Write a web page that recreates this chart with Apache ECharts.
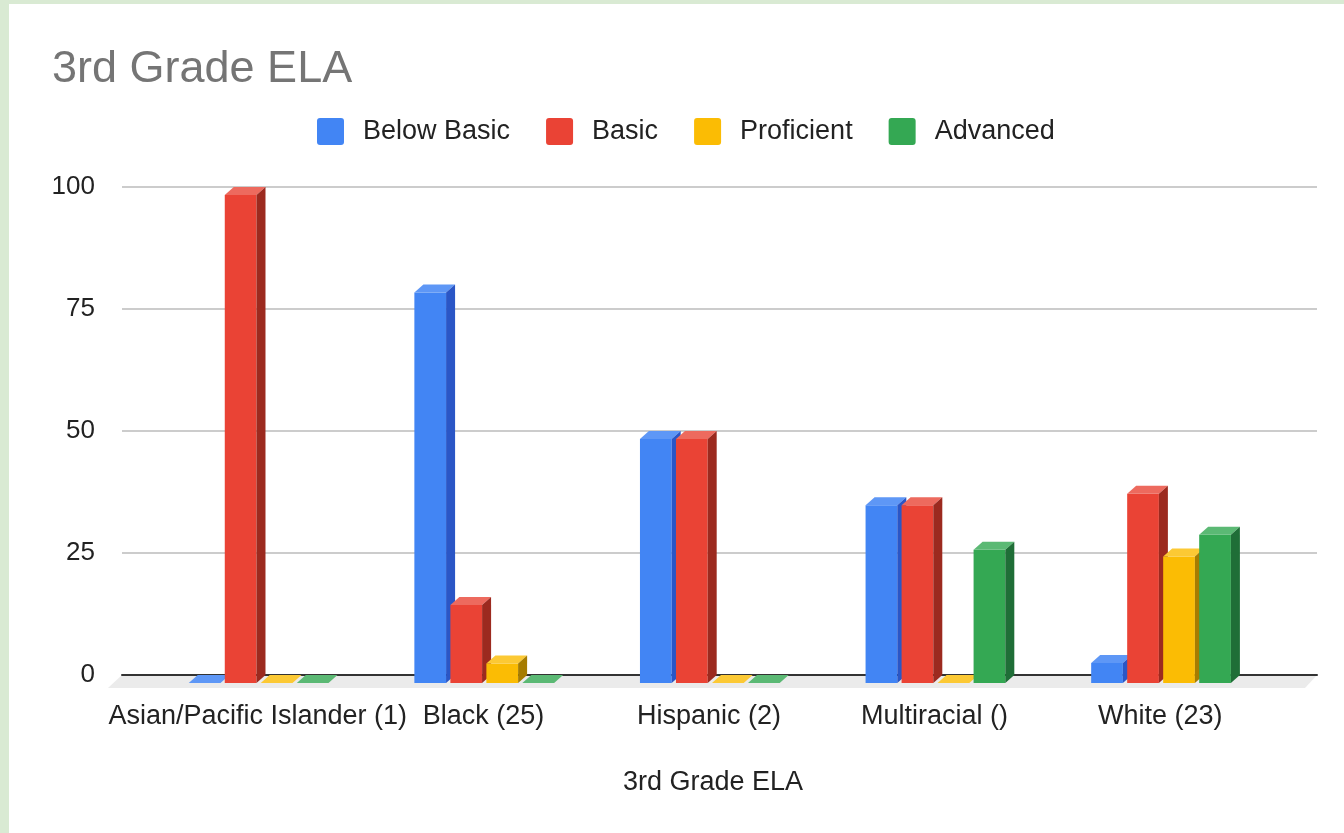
<!DOCTYPE html>
<html>
<head>
<meta charset="utf-8">
<script src="https://cdn.jsdelivr.net/npm/echarts@6/dist/echarts.min.js"></script>
<style>
html,body{margin:0;padding:0;background:#fff;}
#chart{width:1344px;height:833px;}
</style>
</head>
<body>
<div id="chart"></div>
<script>
const categories = ['Asian/Pacific Islander (1)', 'Black (25)', 'Hispanic (2)', 'Multiracial ()', 'White (23)'];
const seriesNames = ['Below Basic', 'Basic', 'Proficient', 'Advanced'];
const belowBasic = [0, 80, 50, 36.4, 4.1];
const basic = [100, 16, 50, 36.4, 38.8];
const proficient = [0, 4, 0, 0, 25.9];
const advanced = [0, 0, 0, 27.3, 30.4];
const yTicks = [0, 25, 50, 75, 100];

const palette = [
  {front: '#4285f4', top: '#5e97f6', side: '#2a56c6'},
  {front: '#ea4335', top: '#ed6a5e', side: '#9c2a1f'},
  {front: '#fbbc04', top: '#fcc934', side: '#a67c00'},
  {front: '#34a853', top: '#5bb974', side: '#1f6e37'}
];
const seriesValues = [belowBasic, basic, proficient, advanced];

const DX = 9, DY = 8;

function barRenderer(idx) {
  const col = palette[idx];
  return function (params, api) {
    const ci = api.value(0), v = api.value(1);
    const c = api.coord([ci, v]);
    const c0 = api.coord([ci, 0]);
    const band = api.size([1, 0])[0];
    const x = c[0] + band * (-0.306 + 0.1596 * idx);
    const w = band * 0.1406;
    const yBot = c0[1] + DY;
    if (!(v > 0)) {
      return {
        type: 'polygon',
        shape: {points: [[x, yBot], [x + w, yBot], [x + w + DX, yBot - DY], [x + DX, yBot - DY]]},
        style: {fill: col.top}
      };
    }
    const yTop = c[1] + DY;
    return {
      type: 'group',
      children: [
        {type: 'rect', shape: {x: x, y: yTop, width: w, height: yBot - yTop}, style: {fill: col.front}},
        {type: 'polygon', shape: {points: [[x, yTop], [x + w, yTop], [x + w + DX, yTop - DY], [x + DX, yTop - DY]]}, style: {fill: col.top}},
        {type: 'polygon', shape: {points: [[x + w, yTop], [x + w + DX, yTop - DY], [x + w + DX, yBot - DY], [x + w, yBot]]}, style: {fill: col.side}}
      ]
    };
  };
}

const barSeries = seriesNames.map((name, i) => ({
  name: name,
  type: 'custom',
  xAxisIndex: 1,
  yAxisIndex: 1,
  z: 3,
  itemStyle: {color: palette[i].front},
  encode: {x: 0, y: 1},
  data: seriesValues[i].map((v, k) => [k, v]),
  renderItem: barRenderer(i)
}));

const floorSeries = {
  type: 'custom',
  xAxisIndex: 0,
  yAxisIndex: 0,
  z: 0,
  silent: true,
  data: [[0, 0]],
  renderItem: function (params, api) {
    const cs = params.coordSys;
    const yb = cs.y + cs.height;
    return {
      type: 'polygon',
      shape: {points: [[cs.x, yb], [cs.x + cs.width, yb], [cs.x + cs.width - 12, yb + 13], [cs.x - 14, yb + 13]]},
      style: {fill: '#ebebeb'}
    };
  }
};

const FONT = 'Arial, "Liberation Sans", sans-serif';
const chart = echarts.init(document.getElementById('chart'), null, {renderer: 'canvas'});
chart.setOption({
  backgroundColor: '#ffffff',
  animation: false,
  textStyle: {fontFamily: FONT},
  graphic: [
    {type: 'rect', left: 0, top: 0, shape: {width: 9, height: 833}, style: {fill: '#d9ead3'}, z: 100},
    {type: 'rect', left: 0, top: 0, shape: {width: 1344, height: 4}, style: {fill: '#d9ead3'}, z: 100}
  ],
  title: {
    text: '3rd Grade ELA',
    left: 47,
    top: 42,
    textStyle: {fontSize: 45, fontWeight: 'normal', color: '#757575', fontFamily: FONT}
  },
  legend: {
    data: seriesNames,
    left: 317,
    top: 118,
    padding: 0,
    itemWidth: 27,
    itemHeight: 27,
    itemGap: 36,
    icon: 'path://M3,0 H24 Q27,0 27,3 V24 Q27,27 24,27 H3 Q0,27 0,24 V3 Q0,0 3,0 Z',
    textStyle: {fontSize: 27, color: '#222', fontFamily: FONT, padding: [0, 0, 0, 14]}
  },
  grid: [
    {left: 122, right: 27, top: 187, bottom: 158},
    {left: 145, right: 71, top: 187, bottom: 158}
  ],
  xAxis: [
    {
      type: 'value', gridIndex: 0, min: 0, max: 1, z: 1,
      axisLine: {show: true, lineStyle: {color: '#333', width: 2}},
      axisTick: {show: false}, axisLabel: {show: false}, splitLine: {show: false}
    },
    {
      type: 'category', gridIndex: 1, data: categories,
      axisLine: {show: false}, axisTick: {show: false},
      axisLabel: {fontSize: 27, color: '#222', margin: 28, interval: 0, hideOverlap: false, fontFamily: FONT},
      name: '3rd Grade ELA', nameLocation: 'middle', nameGap: 94,
      nameTextStyle: {fontSize: 27, color: '#222', fontFamily: FONT, padding: [0, 0, 0, 8]}
    }
  ],
  yAxis: [
    {
      type: 'value', gridIndex: 0, min: 0, max: 100, interval: 25,
      axisLine: {show: false}, axisTick: {show: false},
      axisLabel: {fontSize: 26, color: '#222', margin: 27, fontFamily: FONT,
        formatter: function (v) { return yTicks.indexOf(v) >= 0 ? String(v) : ''; }},
      splitLine: {show: true, lineStyle: {color: '#cccccc', width: 2}}
    },
    {
      type: 'value', gridIndex: 1, min: 0, max: 100, interval: 25, show: false,
      splitLine: {show: false}
    }
  ],
  series: [floorSeries].concat(barSeries)
});
</script>
</body>
</html>
